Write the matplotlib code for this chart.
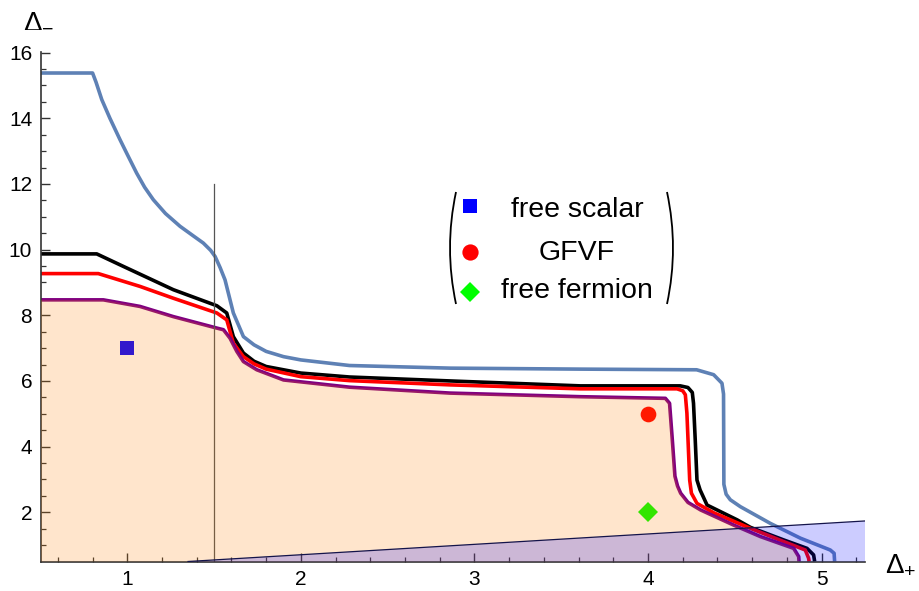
import matplotlib.pyplot as plt
import numpy as np
from matplotlib.patches import PathPatch
from matplotlib.path import Path

plt.rcParams['font.family'] = ['Liberation Sans', 'DejaVu Sans']
plt.rcParams['mathtext.fontset'] = 'custom'
plt.rcParams['mathtext.rm'] = 'Liberation Sans'
plt.rcParams['mathtext.it'] = 'Liberation Sans'

# bound curves (Delta_+, Delta_-)
blue_x = [0.5, 0.80, 0.82, 0.853, 0.9, 0.958, 1.0, 1.054, 1.1, 1.15, 1.22, 1.304,
          1.38, 1.438, 1.48, 1.506, 1.535, 1.563, 1.611, 1.669, 1.73, 1.80, 1.9,
          2.0, 2.28, 2.86, 3.61, 4.28, 4.378, 4.426, 4.435, 4.437, 4.45,
          4.474, 4.532, 4.705, 4.878, 5.05, 5.072, 5.075]
blue_y = [15.38, 15.38, 15.1, 14.57, 14.0, 13.35, 12.9, 12.33, 11.9, 11.52, 11.1,
          10.71, 10.42, 10.2, 9.98, 9.79, 9.45, 9.08, 8.07, 7.35, 7.1, 6.9, 6.74,
          6.64, 6.47, 6.39, 6.36, 6.34, 6.19, 5.93, 5.6, 2.85, 2.55,
          2.38, 2.17, 1.66, 1.21, 0.85, 0.75, 0.5]

black_x = [0.5, 0.824, 0.977, 1.265, 1.516, 1.573, 1.611, 1.669, 1.73, 1.80, 2.0,
           2.28, 2.86, 3.61, 4.186, 4.23, 4.255, 4.262, 4.272, 4.282, 4.30, 4.34,
           4.513, 4.59, 4.78, 4.916, 4.954, 4.96]
black_y = [9.87, 9.87, 9.49, 8.78, 8.29, 8.07, 7.35, 6.85, 6.6, 6.44, 6.24,
           6.12, 6.00, 5.85, 5.85, 5.8, 5.65, 5.32, 4.2, 2.98, 2.68, 2.22,
           1.77, 1.54, 1.16, 0.9, 0.7, 0.5]

red_x = [0.5, 0.833, 1.073, 1.265, 1.516, 1.573, 1.611, 1.669, 1.73, 1.80, 2.0,
         2.28, 2.86, 3.61, 4.167, 4.20, 4.215, 4.224, 4.232, 4.24, 4.25, 4.282,
         4.38, 4.474, 4.59, 4.78, 4.906, 4.925, 4.928]
red_y = [9.27, 9.27, 8.88, 8.52, 8.07, 7.86, 7.15, 6.74, 6.52, 6.36, 6.13,
         6.01, 5.88, 5.76, 5.76, 5.7, 5.58, 5.02, 4.0, 2.98, 2.58, 2.27,
         1.98, 1.77, 1.51, 1.11, 0.85, 0.6, 0.5]

purple_x = [0.5, 0.862, 1.073, 1.265, 1.516, 1.554, 1.592, 1.631, 1.669, 1.746,
            1.90, 2.28, 2.86, 3.61, 4.10, 4.124, 4.14, 4.155, 4.17, 4.188, 4.23,
            4.303, 4.493, 4.647, 4.839, 4.868, 4.87]
purple_y = [8.47, 8.47, 8.27, 7.96, 7.61, 7.56, 7.3, 6.9, 6.59, 6.34,
            6.03, 5.81, 5.63, 5.52, 5.47, 5.32, 4.2, 3.1, 2.8, 2.58, 2.3,
            2.07, 1.61, 1.26, 0.9, 0.65, 0.5]

# excluded wedge along the bottom
wedge_x = [1.35, 5.25]
wedge_y = [0.5, 1.735]

# theories
points = {'free scalar': (1.0, 7.0), 'GFVF': (4.0, 5.0), 'free fermion': (4.0, 2.0)}
point_style = {'free scalar': ('s', '#0000ff', 9.6),
               'GFVF': ('o', '#ff0000', 11.3),
               'free fermion': ('D', '#00ff00', 10)}

W, H = 919, 591
fig = plt.figure(figsize=(W / 100, H / 100), dpi=100)
ax = fig.add_axes([40.5 / W, 1 - 561.5 / H, (865 - 40.5) / W, (561.5 - 52) / H])

lw = 2.6
for xs, ys, c in [(blue_x, blue_y, '#5e81b5'), (black_x, black_y, 'black'),
                  (red_x, red_y, '#ff0000'), (purple_x, purple_y, '#800080')]:
    ax.plot(xs, ys, color=c, lw=lw, zorder=2, solid_joinstyle='round',
            solid_capstyle='butt')
ax.plot([1.5, 1.5], [0.5, 12.0], color='#555555', lw=0.9, zorder=2)

for name, (px, py) in points.items():
    m, c, s = point_style[name]
    ax.plot(px, py, marker=m, color=c, ms=s, mew=0, ls='none', zorder=2)

# translucent regions drawn over everything
ax.fill(purple_x + [0.5], purple_y + [0.5], color=(1, 0.5, 0), alpha=0.2, lw=0, zorder=3)
ax.fill(wedge_x + [5.25], wedge_y + [0.5], color=(0, 0, 1), alpha=0.2, lw=0, zorder=3)
ax.plot(wedge_x, wedge_y, color='#14144a', lw=0.9, zorder=3)

ax.set_xlim(0.5, 5.25)
ax.set_ylim(0.5, 16.02)
ax.set_xticks([1, 2, 3, 4, 5])
ax.set_xticks(np.arange(0.6, 5.25, 0.2), minor=True)
ax.set_yticks([2, 4, 6, 8, 10, 12, 14, 16])
ax.set_yticks(np.arange(1.0, 16.01, 0.5), minor=True)
for side in ['top', 'right']:
    ax.spines[side].set_visible(False)
for side in ['left', 'bottom']:
    ax.spines[side].set_color('#333333')
    ax.spines[side].set_linewidth(1.2)
ax.tick_params(which='both', direction='in', color='#333333', labelsize=15)
ax.tick_params(which='major', length=6.5, width=1.0)
ax.tick_params(which='minor', length=3.6, width=0.9)
ax.tick_params(axis='x', which='major', pad=6)
ax.tick_params(axis='y', which='major', pad=6)

fig.text(23 / W, 1 - 20 / H, r'$\Delta_{-}$', fontsize=20, va='center', ha='left')
fig.text(885 / W, 1 - 565 / H, r'$\Delta_{+}$', fontsize=20, va='center', ha='left')

# legend in parentheses
rows_y = [206, 251.5, 291.5]
base_y = [217, 260, 298]
for (name, (m, c, s)), ym, yb in zip(point_style.items(), rows_y, base_y):
    fig.lines.append(plt.Line2D([470 / W], [1 - ym / H], marker=m, color=c,
                                ms=s + 0.4, mew=0, ls='none', transform=fig.transFigure))
    fig.text(577 / W, 1 - yb / H, name, fontsize=20.5, ha='center', va='baseline')

for x0, xc in [(456, 444), (667, 679)]:
    verts = [(x0 / W, 1 - 192 / H), (xc / W, 1 - 248 / H), (x0 / W, 1 - 304 / H)]
    path = Path(verts, [Path.MOVETO, Path.CURVE3, Path.CURVE3])
    fig.patches.append(PathPatch(path, fill=False, lw=1.3, color='black',
                                 transform=fig.transFigure))

fig.savefig('out.png', dpi=100)
